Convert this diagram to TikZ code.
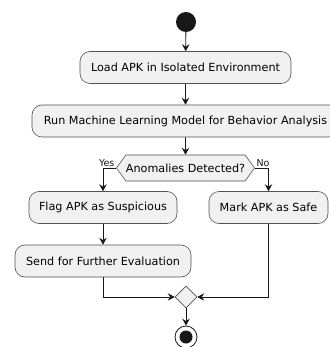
\documentclass[tikz,border=0pt]{standalone}
\usepackage{fontspec}
\setmainfont{DejaVu Sans}
\usetikzlibrary{shapes.geometric,shapes.symbols,arrows.meta}
\definecolor{boxfill}{HTML}{F1F1F1}
\definecolor{ink}{HTML}{181818}
\begin{document}
\begin{tikzpicture}[x=1pt,y=-1pt,
  act/.style={draw=ink!75, fill=boxfill, rounded corners=10pt, minimum height=32pt,
    inner sep=0pt, font=\fontsize{11.2}{13}\selectfont, line width=0.6pt},
  flow/.style={draw=ink, line width=0.8pt, -{Stealth[length=7pt,width=7.5pt,inset=2.5pt]}},
  guard/.style={font=\fontsize{9.5}{11}\selectfont, inner sep=1.5pt, text=ink},
  startdot/.style={circle, fill=ink, draw=none, minimum size=20pt, inner sep=0pt},
  decision/.style={signal, signal to=west and east, signal pointer angle=108,
    draw=ink!75, fill=boxfill, line width=0.6pt, minimum width=133pt, minimum height=26pt,
    inner sep=0pt, font=\fontsize{11.2}{13}\selectfont},
  mergebox/.style={diamond, draw=ink!75, fill=boxfill, line width=0.6pt,
    minimum width=22pt, minimum height=22pt, inner sep=0pt},
  stopring/.style={circle, draw=ink, fill=white, line width=0.8pt, minimum size=22pt, inner sep=0pt}]
\useasboundingbox (0,0) rectangle (329,347);
\fill[white] (0,0) rectangle (329,347);

% activity nodes
\node[startdot] (start) at (186,22) {};
\node[act, minimum width=211pt] (load) at (185.5,67.5) {Load APK in Isolated Environment};
\node[act, minimum width=307pt] (run) at (185.5,121) {Run Machine Learning Model for Behavior Analysis};
\node[decision] (check) at (185.5,168) {Anomalies Detected?};
\node[act, minimum width=148pt] (flag) at (103,207.5) {Flag APK as Suspicious};
\node[act, minimum width=119pt] (safe) at (268.5,207.5) {Mark APK as Safe};
\node[act, minimum width=176pt] (send) at (103,261) {Send for Further Evaluation};
\node[mergebox] (merge) at (186,297) {};
\node[stopring] (stop) at (186,337) {};
\fill[ink] (stop.center) circle (6.5pt);

% connectors
\draw[flow] (start) -- (load);
\draw[flow] (load) -- (run);
\draw[flow] (run) -- (check);
\draw[flow] (check.west) -| (flag.north);
\draw[flow] (check.east) -| (safe.north);
\node[guard, anchor=south east] at (check.west) {Yes};
\node[guard, anchor=south west] at (check.east) {No};
\draw[flow] (flag) -- (send);
\draw[flow] (send.south) |- (merge.west);
\draw[flow] (safe.south) |- (merge.east);
\draw[flow] (merge) -- (stop);
\end{tikzpicture}
\end{document}
